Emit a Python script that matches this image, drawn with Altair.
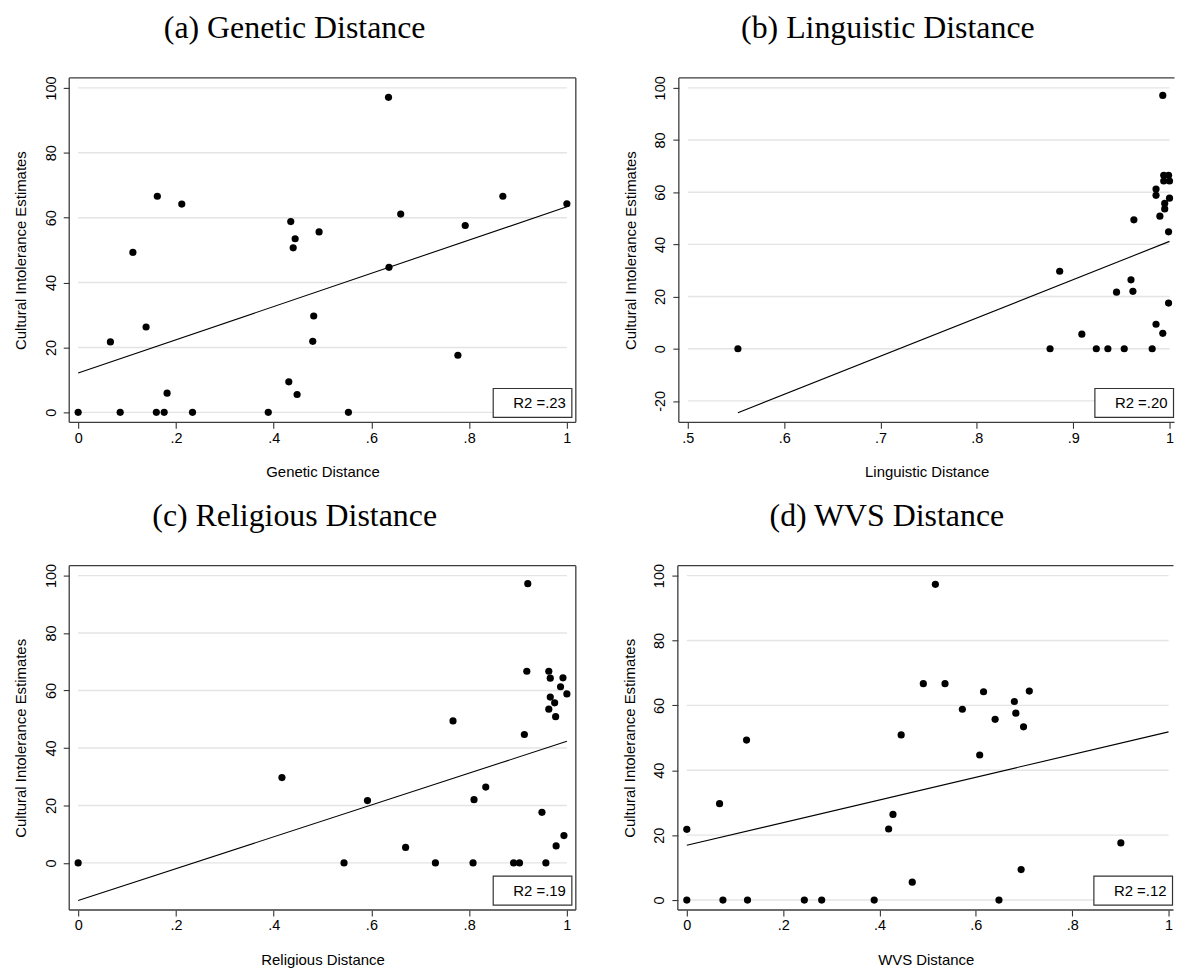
import altair as alt
import pandas as pd

# ---------------- data ----------------
gen_x = [0.000, 0.066, 0.086, 0.112, 0.139, 0.160, 0.162, 0.176, 0.182, 0.212, 0.234, 0.389, 0.431, 0.435,
         0.440, 0.444, 0.448, 0.480, 0.482, 0.493, 0.553, 0.635, 0.636, 0.660, 0.777, 0.792, 0.869, 1.000]
gen_y = [0, 21.7, 0, 49.3, 26.3, 0, 66.6, 0, 5.9, 64.2, 0, 0, 9.4, 58.8,
         50.7, 53.5, 5.5, 21.9, 29.7, 55.6, 0, 97.1, 44.7, 61.1, 17.6, 57.6, 66.6, 64.3]

ling_x = [0.552, 0.876, 0.886, 0.909, 0.924, 0.936, 0.945, 0.953, 0.960, 0.962, 0.963, 0.982, 0.986, 0.986,
          0.986, 0.990, 0.993, 0.993, 0.994, 0.994, 0.995, 0.995, 0.999, 1.000, 1.000, 0.999, 0.999]
ling_y = [0, 0, 29.7, 5.6, 0, 0, 21.7, 0, 26.4, 22.0, 49.4, 0, 9.4, 58.8,
          61.2, 50.8, 97.1, 5.9, 66.5, 64.3, 53.6, 55.7, 66.5, 64.3, 57.7, 44.8, 17.5]

rel_x = [0.000, 0.417, 0.544, 0.592, 0.670, 0.731, 0.767, 0.808, 0.810, 0.834, 0.891, 0.903, 0.913, 0.918,
         0.920, 0.949, 0.957, 0.963, 0.963, 0.966, 0.966, 0.975, 0.977, 0.978, 0.987, 0.992, 0.994, 1.000]
rel_y = [0, 29.7, 0, 21.7, 5.4, 0, 49.4, 0, 22.0, 26.4, 0, 0, 44.7, 66.7,
         97.2, 17.6, 0, 53.5, 66.7, 64.3, 57.7, 55.7, 50.9, 5.9, 61.3, 64.4, 9.5, 58.8]

wvs_x = [0.000, 0.000, 0.068, 0.075, 0.124, 0.126, 0.244, 0.280, 0.389, 0.419, 0.428, 0.445, 0.468, 0.491,
         0.516, 0.536, 0.572, 0.608, 0.616, 0.640, 0.648, 0.680, 0.683, 0.694, 0.699, 0.711, 0.901, 1.000]
wvs_y = [0, 21.8, 29.7, 0, 49.3, 0, 0, 0, 0, 21.9, 26.4, 50.9, 5.5, 66.7,
         97.3, 66.7, 58.8, 44.7, 64.2, 55.7, 0, 61.2, 57.6, 9.4, 53.4, 64.4, 17.6, 5.9]

titles = ["(a) Genetic Distance", "(b) Linguistic Distance", "(c) Religious Distance", "(d) WVS Distance"]
x_titles = ["Genetic Distance", "Linguistic Distance", "Religious Distance", "WVS Distance"]
y_title = "Cultural Intolerance Estimates"
r2_labels = ["R2 =.23", "R2 =.20", "R2 =.19", "R2 =.12"]

ticks_unit = [0, 0.2, 0.4, 0.6, 0.8, 1]
ticks_ling = [0.5, 0.6, 0.7, 0.8, 0.9, 1]
yticks_std = [0, 20, 40, 60, 80, 100]
yticks_ling = [-20, 0, 20, 40, 60, 80, 100]

H = 346
W_LEFT, W_RIGHT = 509, 498
LABEL_FONT = "Liberation Sans"
TITLE_FONT = "Liberation Serif"
FRAME = "#3c3c3c"

XLABEL = "datum.value == 0 ? '0' : datum.value == 1 ? '1' : replace(format(datum.value, '.1f'), '0.', '.')"
YLABEL = "toString(datum.value)"


def panel(xs, ys, xdom, ydom, xticks, yticks, title, dx, xtitle, r2, W, right_col):
    df = pd.DataFrame({"x": xs, "y": ys})
    grid_df = pd.DataFrame({"x": [xticks[0]] * len(yticks), "x2": [xticks[-1]] * len(yticks), "y": yticks})
    xs_ = alt.Scale(domain=xdom, nice=False, zero=False)
    ys_ = alt.Scale(domain=ydom, nice=False, zero=False)
    xax = alt.Axis(values=xticks, title=xtitle, labelExpr=XLABEL, labelFlush=False, labelPadding=3,
                   titlePadding=20)
    yax = alt.Axis(values=yticks, title=y_title, labelExpr=YLABEL, labelFlush=False, labelAngle=270,
                   labelAlign="center", labelBaseline="alphabetic", labelPadding=8, titlePadding=15)
    X = alt.X("x:Q", scale=xs_, axis=xax)
    Y = alt.Y("y:Q", scale=ys_, axis=yax)

    grid = alt.Chart(grid_df).mark_rule(color="#e4e4e4", strokeWidth=1.4).encode(x=X, x2="x2:Q", y=Y)
    pts = alt.Chart(df).mark_circle(size=52, color="black", opacity=1).encode(x=X, y=Y)
    fit = alt.Chart(df).transform_regression("x", "y").mark_line(color="black", strokeWidth=1.1).encode(x=X, y=Y)
    lab = pd.DataFrame({"label": [r2]})
    if right_col:
        bx0, bx1, tx = W - 80, W - 1, W - 7
    else:
        bx0, bx1, tx = W - 83, W - 4, W - 10
    box = alt.Chart(lab).mark_rect(fill="white", stroke="#333333", strokeWidth=1.2).encode(
        x=alt.value(bx0), x2=alt.value(bx1), y=alt.value(H - 34), y2=alt.value(H - 5))
    txt = alt.Chart(lab).mark_text(align="right", baseline="middle", font=LABEL_FONT, fontSize=15,
                                   color="black").encode(
        x=alt.value(tx), y=alt.value(H - 19), text="label:N")
    # plot frame (the right column is cut at the page edge in the reference: no right border there)
    frame_rule = alt.Chart(lab).mark_rule(color=FRAME, strokeWidth=1.3)
    frames = [
        frame_rule.encode(x=alt.value(0), x2=alt.value(W), y=alt.value(0)),
        frame_rule.encode(x=alt.value(0), x2=alt.value(W), y=alt.value(H)),
        frame_rule.encode(x=alt.value(0), y=alt.value(0), y2=alt.value(H)),
    ]
    if not right_col:
        frames.append(frame_rule.encode(x=alt.value(W), y=alt.value(0), y2=alt.value(H)))
    return alt.layer(grid, pts, fit, box, txt, *frames).properties(
        width=W, height=H,
        title=alt.TitleParams(title, font=TITLE_FONT, fontSize=32, fontWeight="normal", color="black",
                              anchor="middle", frame="group", baseline="alphabetic", offset=6, dx=dx))


pa = panel(gen_x, gen_y, [-0.0183, 1.0183], [-3.07, 103.07], ticks_unit, yticks_std, titles[0], -28,
           x_titles[0], r2_labels[0], W_LEFT, False)
pb = panel(ling_x, ling_y, [0.4907, 1.00517], [-28.2, 103.8], ticks_ling, yticks_ling, titles[1], -39,
           x_titles[1], r2_labels[1], W_RIGHT, True)
pc = panel(rel_x, rel_y, [-0.0183, 1.0183], [-16.4, 103.46], ticks_unit, yticks_std, titles[2], -28,
           x_titles[2], r2_labels[2], W_LEFT, False)
pd_ = panel(wvs_x, wvs_y, [-0.0186, 1.01033], [-3.07, 103.07], ticks_unit, yticks_std, titles[3], -39,
            x_titles[3], r2_labels[3], W_RIGHT, True)

chart = alt.vconcat(
    alt.hconcat(pa, pb, spacing=45.5),
    alt.hconcat(pc, pd_, spacing=45.5),
    spacing=19,
).configure_view(strokeWidth=0).configure_axis(
    domain=False, grid=False, tickColor="#333333", tickSize=6, tickWidth=1.1,
    labelFont=LABEL_FONT, labelFontSize=14.5, labelColor="black",
    titleFont=LABEL_FONT, titleFontSize=15, titleFontWeight="normal", titleColor="black",
).properties(padding={"left": 4.5, "top": 1, "right": 0, "bottom": 0}, background="white")

chart.save("out.html", embed_options={"renderer": "svg", "actions": False})
